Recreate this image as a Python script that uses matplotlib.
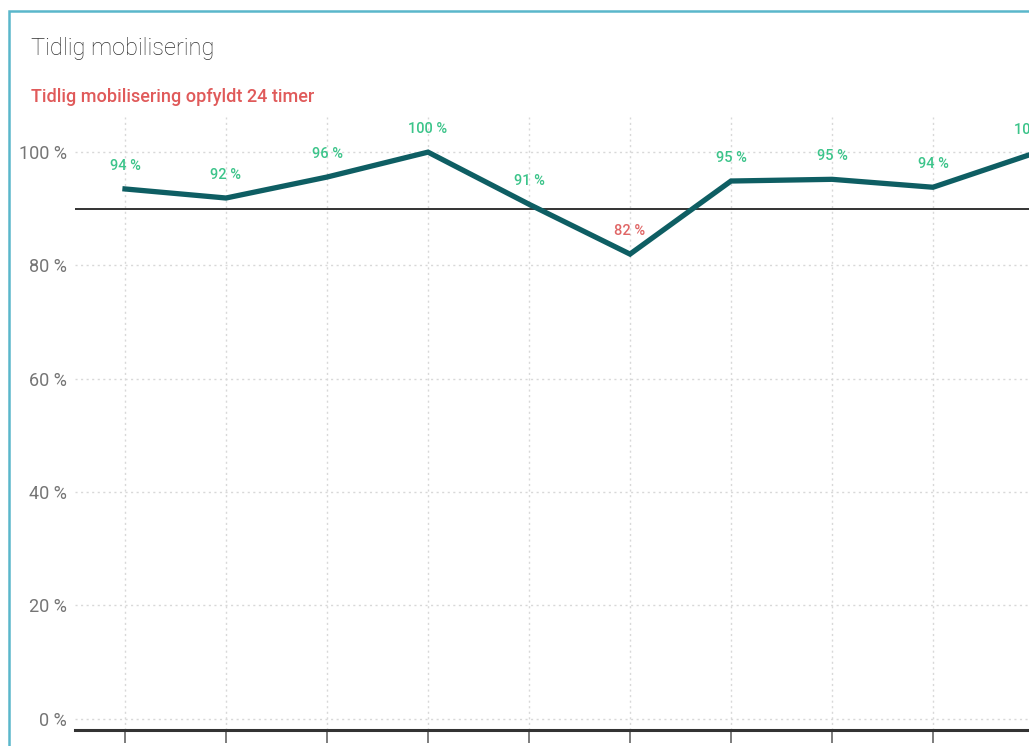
import matplotlib
matplotlib.use("Agg")
import matplotlib.pyplot as plt
from matplotlib.patches import Rectangle

plt.rcParams['font.family'] = ['Roboto', 'DejaVu Sans']

# Data
periods = list(range(10))
values = [93.5, 91.9, 95.6, 100.0, 90.8, 82.0, 94.9, 95.2, 93.8, 99.8]
labels = ["94 %", "92 %", "96 %", "100 %", "91 %", "82 %", "95 %", "95 %", "94 %", "100 %"]
target = 90
yticks = [0, 20, 40, 60, 80, 100]
ytick_labels = ["0 %", "20 %", "40 %", "60 %", "80 %", "100 %"]

W, H = 1029, 746
fig = plt.figure(figsize=(W/100, H/100), dpi=100)

# axes geometry in pixels
left_px, right_px = 75, 1140
top_px, bot_px = 117, 730
ax = fig.add_axes([left_px/W, (H-bot_px)/H, (right_px-left_px)/W, (bot_px-top_px)/H])

# x: point i at 125 + 101*i px
x0 = (left_px - 125)/101
x1 = (right_px - 125)/101
ax.set_xlim(x0, x1)
ax.set_ylim(-2, 106.2)

ax.plot(periods, values, color='#0e5e63', lw=3.8, solid_joinstyle='miter', zorder=3)
ax.axhline(target, color='#333333', lw=1.4, zorder=2)

green = '#3cc48a'
red = '#e06666'
for x, v, lab in zip(periods, values, labels):
    c = green if v >= target else red
    ax.annotate(lab, (x, v), xytext=(0, 16.5), textcoords='offset points',
                ha='center', va='center', color=c, fontsize=10.5, fontweight='medium',
                annotation_clip=False)

ax.set_yticks(yticks)
ax.set_yticklabels(ytick_labels, color='#757575', fontsize=13)
ax.set_xticks(periods)
ax.set_xticklabels([''] * len(periods))
ax.tick_params(axis='y', length=0, pad=6)
ax.tick_params(axis='x', length=9, width=1.2, color='#666666', direction='out')

ax.grid(True, color='#d8d8d8', linestyle=(0, (1.5, 2.5)), lw=1)
ax.set_axisbelow(True)
for s in ['top', 'right', 'left']:
    ax.spines[s].set_visible(False)
ax.spines['bottom'].set_color('#333333')
ax.spines['bottom'].set_linewidth(2.2)

# border
fig.patches.append(Rectangle((9/W, -0.1), 1.2, (H-11)/H + 0.1, transform=fig.transFigure,
                             fill=False, edgecolor='#5ab7cb', lw=1.8, zorder=10))

fig.text(31/W, (H-49)/H, "Tidlig mobilisering", fontsize=17, fontweight='light',
         color='#333333', ha='left', va='center')
fig.text(31/W, (H-97)/H, "Tidlig mobilisering opfyldt 24 timer", fontsize=13,
         fontweight='medium', color='#e05a5a', ha='left', va='center')

fig.savefig('out.png', dpi=100)
